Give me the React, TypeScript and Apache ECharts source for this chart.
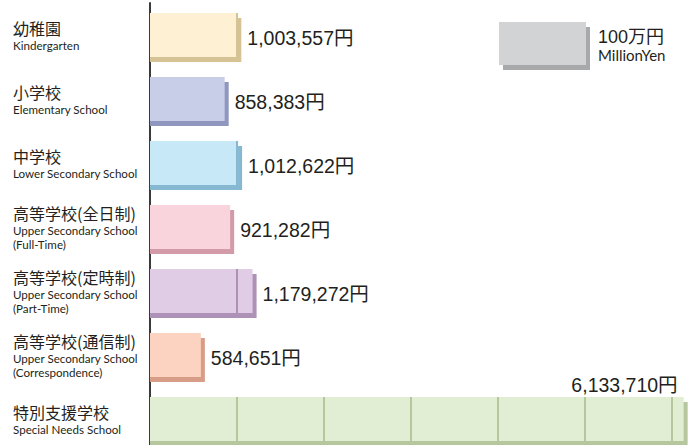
import React, { useEffect, useRef } from "react";
import * as echarts from "echarts";

const categoriesJa = [
  "幼稚園",
  "小学校",
  "中学校",
  "高等学校(全日制)",
  "高等学校(定時制)",
  "高等学校(通信制)",
  "特別支援学校",
];
const categoriesEn = [
  ["Kindergarten"],
  ["Elementary School"],
  ["Lower Secondary School"],
  ["Upper Secondary School", "(Full-Time)"],
  ["Upper Secondary School", "(Part-Time)"],
  ["Upper Secondary School", "(Correspondence)"],
  ["Special Needs School"],
];
const values = [1003557, 858383, 1012622, 921282, 1179272, 584651, 6133710];
const unitValue = 1000000;
const legendJa = "100万円";
const legendEn = "MillionYen";

const frontColors = ["#FDF0D3", "#C8CDE8", "#C6E8F7", "#F9D4DC", "#E0CCE4", "#FBD3C0", "#E2EED3"];
const shadowColors = ["#D5C396", "#8F97BF", "#86B8D2", "#D29BA7", "#AE91B6", "#D79D87", "#B6C69D"];

const fmt = (v: number) => v.toLocaleString("en-US") + "円";

export default function App() {
  const ref = useRef<HTMLDivElement>(null);
  useEffect(() => {
    if (!ref.current) return;
    const chart = echarts.init(ref.current, undefined, { renderer: "svg" });
    const barH = 44;
    const off = 4;
    const offY = 5;
    const labelFont = "Liberation Sans, Noto Sans CJK JP, sans-serif";
    chart.setOption({
      animation: false,
      backgroundColor: "#ffffff",
      grid: { left: 150, top: 3, width: 539.4, height: 448, outerBoundsMode: "none", containLabel: false },
      xAxis: { type: "value", min: 0, max: 6200000, show: false },
      yAxis: {
        type: "category",
        inverse: true,
        data: categoriesJa,
        axisLine: { show: true, lineStyle: { color: "#3a3a3a", width: 2 } },
        axisTick: { show: false },
        splitLine: { show: false },
        axisLabel: {
          align: "left",
          margin: 137,
          formatter: (_v: string, i: number) =>
            "{jp|" + categoriesJa[i] + "}\n" + categoriesEn[i].map((s) => "{en|" + s + "}").join("\n"),
          rich: {
            jp: { fontFamily: "Noto Sans CJK JP", fontSize: 16, lineHeight: 21, color: "#231F20" },
            en: { fontFamily: "Lato", fontSize: 11.6, lineHeight: 14.5, color: "#231F20" },
          },
        },
      },
      series: [
        {
          type: "custom",
          encode: { x: 1, y: 0 },
          data: values.map((v, i) => [i, v]),
          renderItem: (params: any, api: any) => {
            const i = api.value(0);
            const v = api.value(1);
            const s = api.coord([0, i]);
            const e = api.coord([v, i]);
            const top = s[1] - barH / 2;
            const x0 = s[0];
            const w = e[0] - x0;
            const children: any[] = [];
            children.push({
              type: "rect",
              shape: { x: x0, y: top + offY, width: w + off, height: barH },
              style: { fill: shadowColors[i] },
            });
            children.push({
              type: "rect",
              shape: { x: x0, y: top, width: w, height: barH },
              style: { fill: frontColors[i] },
            });
            for (let m = 1; m * unitValue <= v; m++) {
              const lx = api.coord([m * unitValue, i])[0];
              children.push({
                type: "line",
                shape: { x1: lx, y1: top, x2: lx, y2: top + barH + offY },
                style: { stroke: shadowColors[i], lineWidth: 2 },
              });
            }
            const chartW = api.getWidth();
            const above = e[0] + 120 > chartW;
            children.push({
              type: "text",
              x: above ? e[0] - 6 : e[0] + off + 6,
              y: above ? top - 12 : s[1] + 3,
              style: {
                text: fmt(v),
                fill: "#231F20",
                fontSize: 19.5,
                fontFamily: labelFont,
                align: above ? "right" : "left",
                verticalAlign: "middle",
              },
            });
            return { type: "group", children };
          },
        },
      ],
      graphic: [
        { type: "rect", shape: { x: 503, y: 27, width: 87, height: 43 }, style: { fill: "#A8A9AB" } },
        { type: "rect", shape: { x: 499, y: 22, width: 87, height: 43 }, style: { fill: "#D1D3D4" } },
        {
          type: "text",
          x: 598,
          y: 37,
          style: { text: legendJa, fill: "#231F20", fontSize: 18, fontFamily: labelFont, verticalAlign: "middle" },
        },
        {
          type: "text",
          x: 598,
          y: 55,
          style: { text: legendEn, fill: "#231F20", fontSize: 15, fontFamily: "Lato", verticalAlign: "middle" },
        },
      ],
    });
    return () => chart.dispose();
  }, []);
  return (
    <div
      ref={ref}
      style={{ position: "absolute", left: 0, top: 0, width: 693, height: 445, background: "#fff" }}
    />
  );
}
